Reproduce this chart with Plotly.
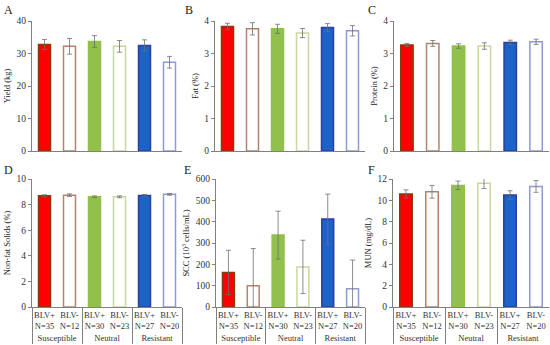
import plotly.graph_objects as go

groups = ["Susceptible", "Susceptible", "Neutral", "Neutral", "Resistant", "Resistant"]
subcats = ["BLV+<br>N=35", "BLV-<br>N=12", "BLV+<br>N=30", "BLV-<br>N=23", "BLV+<br>N=27", "BLV-<br>N=20"]

yield_kg = [32.8, 32.2, 33.7, 32.2, 32.5, 27.3]
yield_err = [1.5, 2.4, 1.8, 1.8, 1.7, 1.8]
fat = [3.83, 3.76, 3.76, 3.63, 3.80, 3.70]
fat_err = [0.10, 0.19, 0.14, 0.14, 0.12, 0.16]
protein = [3.26, 3.31, 3.23, 3.23, 3.34, 3.36]
protein_err = [0.05, 0.09, 0.07, 0.10, 0.07, 0.08]
nfs = [8.69, 8.74, 8.61, 8.61, 8.72, 8.80]
nfs_err = [0.08, 0.10, 0.07, 0.07, 0.07, 0.07]
scc = [162, 100, 337, 188, 412, 85]
scc_err = [104, 174, 112, 125, 117, 135]
mun = [10.6, 10.8, 11.4, 11.6, 10.5, 11.3]
mun_err = [0.38, 0.6, 0.4, 0.5, 0.4, 0.55]

fill_colors = ["#FF0000", "#FFFFFF", "#92C04C", "#FFFFFF", "#1B63C6", "#FFFFFF"]
line_colors = ["#843C0C", "#B4836C", "#92C04C", "#C8D8A0", "#2E3E9C", "#8E9AD2"]

panels = [
    ("A", yield_kg, yield_err, "Yield (kg)", [0, 40], 10),
    ("B", fat, fat_err, "Fat (%)", [0, 4], 1),
    ("C", protein, protein_err, "Protein (%)", [0, 4], 1),
    ("D", nfs, nfs_err, "Non-fat Solids (%)", [0, 10], 2),
    ("E", scc, scc_err, "SCC (10<sup>3</sup> cells/mL)", [0, 600], 100),
    ("F", mun, mun_err, "MUN (mg/dL)", [0, 12], 2),
]

W, H = 550, 345
xpix = [(32, 182), (215, 365), (394, 549), (32, 182), (216, 365), (393, 549)]
ypix = [(21, 151), (21, 151), (21, 151), (179, 307), (179, 307), (179, 307)]
letter_pos = [(2, 10), (183, 10), (366, 10), (2, 170), (182, 170), (366, 170)]

FONT = "Liberation Serif"
AX = "#808080"

fig = go.Figure()
layout = dict(
    width=W, height=H, margin=dict(l=0, r=0, t=0, b=0, autoexpand=False),
    paper_bgcolor="white", plot_bgcolor="white", showlegend=False,
    font=dict(family=FONT, size=9, color="#333333"),
    bargap=0.52, annotations=[],
)

for i, (letter, vals, errs, title, rng, dt) in enumerate(panels):
    n = i + 1
    xa = "x" if n == 1 else f"x{n}"
    ya = "y" if n == 1 else f"y{n}"
    fig.add_trace(go.Bar(
        x=[groups, subcats], y=vals, xaxis=xa, yaxis=ya,
        marker=dict(color=fill_colors, line=dict(color=line_colors, width=1.5)),
        error_y=dict(type="data", array=errs, visible=True, color="#707070",
                     thickness=0.8, width=2.5),
    ))
    x0, x1 = xpix[i]
    yt, yb = ypix[i]
    bottom = i >= 3
    layout["xaxis" if n == 1 else f"xaxis{n}"] = dict(
        domain=[x0 / W, x1 / W], anchor=ya, type="multicategory", automargin=False,
        showline=True, linecolor=AX, linewidth=1, ticks="", tickangle=0,
        showticklabels=bottom, showdividers=bottom, dividercolor=AX, dividerwidth=1,
        tickfont=dict(family=FONT, size=8.5, color="#333333"), showgrid=False,
    )
    layout["yaxis" if n == 1 else f"yaxis{n}"] = dict(
        domain=[(H - yb) / H, (H - yt) / H], anchor=xa, range=rng, dtick=dt, automargin=False,
        showline=True, linecolor=AX, linewidth=1, ticks="outside", ticklen=3,
        tickcolor=AX, showgrid=False, zeroline=False,
        tickfont=dict(family=FONT, size=9.5, color="#333333"),
        title=dict(text=title, font=dict(family=FONT, size=8.5, color="#222222"), standoff=4),
    )
    lx, ly = letter_pos[i]
    layout["annotations"].append(dict(
        text=letter, x=lx / W, y=(H - ly) / H, xref="paper", yref="paper",
        xanchor="left", yanchor="middle", showarrow=False,
        font=dict(family=FONT, size=12, color="#222222"),
    ))

fig.update_layout(**layout)
fig.write_html("out.html", config={"displayModeBar": False},
               post_script="document.body.style.margin='0';document.body.style.overflow='hidden';")
